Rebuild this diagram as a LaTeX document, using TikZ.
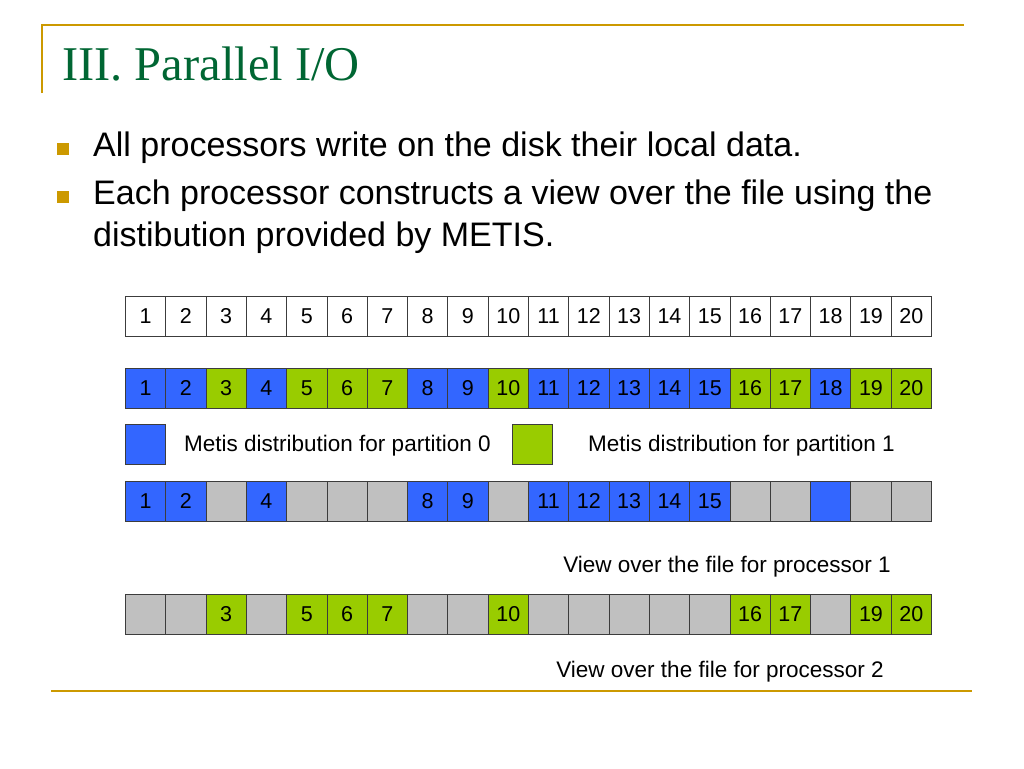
\documentclass[tikz,border=0pt]{standalone}
\usepackage{fontspec}
\setmainfont{Liberation Sans}
\newfontfamily\titlefont{Liberation Serif}
\definecolor{gold}{RGB}{204,153,0}
\definecolor{titlegreen}{RGB}{0,102,51}
\definecolor{pblue}{RGB}{51,102,255}
\definecolor{pgreen}{RGB}{153,204,0}
\definecolor{pgray}{RGB}{192,192,192}
\definecolor{edge}{RGB}{60,60,60}
\tikzset{
  cell/.style={draw=edge, line width=0.8pt, minimum width=40.3pt, minimum height=40pt, inner sep=0pt, anchor=north west, font=\fontsize{21.5}{24}\selectfont},
  bl/.style={cell, fill=pblue},
  gr/.style={cell, fill=pgreen},
  gy/.style={cell, fill=pgray},
  wh/.style={cell, fill=white},
  rule/.style={draw=gold, line width=2pt},
  bullet/.style={fill=gold, draw=none, minimum size=12pt, inner sep=0pt},
  bodytext/.style={anchor=base west, inner sep=0pt, font=\fontsize{34}{40}\selectfont},
  caption/.style={inner sep=0pt, font=\fontsize{22.5}{26}\selectfont}
}
\begin{document}
\begin{tikzpicture}[x=1pt,y=-1pt]
\useasboundingbox (0,0) rectangle (1024,768);
% frame rules
\coordinate (tl) at (42,25);
\coordinate (tr) at (964,25);
\coordinate (lb) at (42,93);
\coordinate (bl) at (51,691);
\coordinate (br) at (972,691);
\draw[rule] (lb) -- (tl) -- (tr);
\draw[rule] (bl) -- (br);
% title
\node[anchor=base west, inner sep=0pt, text=titlegreen, font=\titlefont\fontsize{48.5}{54}\selectfont] (title) at (62,81) {III. Parallel I/O};
% bullets
\node[bullet] (b1) at (63,149) {};
\node[bullet] (b2) at (63,197) {};
\node[bodytext] (t1) at (93,156) {All processors write on the disk their local data.};
\node[bodytext] (t2) at (93,204) {Each processor constructs a view over the file using the};
\node[bodytext] (t3) at (93,246) {distibution provided by METIS.};
% row 1: file
\foreach \i in {1,...,20} {
  \node[wh] (a\i) at ({125+(\i-1)*40.3},296) {\i};
}
% row 2: distribution
\foreach \i/\s in {1/bl,2/bl,3/gr,4/bl,5/gr,6/gr,7/gr,8/bl,9/bl,10/gr,11/bl,12/bl,13/bl,14/bl,15/bl,16/gr,17/gr,18/bl,19/gr,20/gr} {
  \node[\s] (d\i) at ({125+(\i-1)*40.3},368) {\i};
}
% legend
\node[bl] (lg0) at (125,424) {};
\node[caption, anchor=west] (lt0) at (184,446) {Metis distribution for partition 0};
\node[gr] (lg1) at (512,424) {};
\node[caption, anchor=west] (lt1) at (588,446) {Metis distribution for partition 1};
% row 3: view processor 1
\foreach \i/\s/\t in {1/bl/1,2/bl/2,3/gy/,4/bl/4,5/gy/,6/gy/,7/gy/,8/bl/8,9/bl/9,10/gy/,11/bl/11,12/bl/12,13/bl/13,14/bl/14,15/bl/15,16/gy/,17/gy/,18/bl/,19/gy/,20/gy/} {
  \node[\s] (p\i) at ({125+(\i-1)*40.3},481) {\t};
}
\node[caption] (v1) at (727,567) {View over the file for processor 1};
% row 4: view processor 2
\foreach \i/\s/\t in {1/gy/,2/gy/,3/gr/3,4/gy/,5/gr/5,6/gr/6,7/gr/7,8/gy/,9/gy/,10/gr/10,11/gy/,12/gy/,13/gy/,14/gy/,15/gy/,16/gr/16,17/gr/17,18/gy/,19/gr/19,20/gr/20} {
  \node[\s] (q\i) at ({125+(\i-1)*40.3},594) {\t};
}
\node[caption] (v2) at (720,672) {View over the file for processor 2};
\end{tikzpicture}
\end{document}
